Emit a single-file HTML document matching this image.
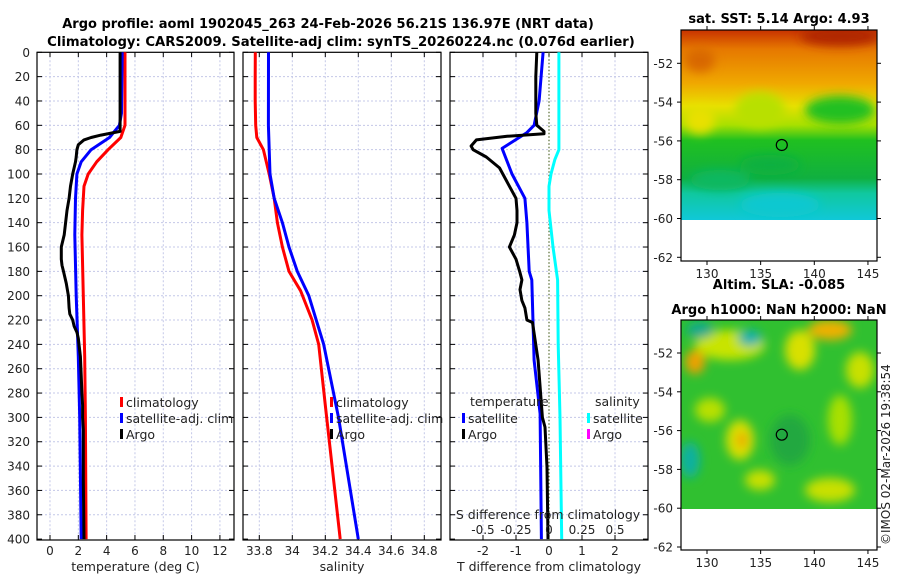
<!DOCTYPE html>
<html><head><meta charset="utf-8"><style>
body{margin:0;background:#fff}
svg{display:block;font-family:"DejaVu Sans","Liberation Sans",sans-serif}
</style></head><body>
<svg id="s" width="900" height="580" xmlns="http://www.w3.org/2000/svg">
<defs>
<filter id="blur" x="-20%" y="-20%" width="140%" height="140%"><feGaussianBlur stdDeviation="5"/></filter>
<clipPath id="c1"><rect x="681" y="30" width="196" height="190"/></clipPath>
<clipPath id="c2"><rect x="681" y="320" width="196" height="189"/></clipPath>
<linearGradient id="sstg" x1="0" y1="0" x2="0" y2="1">
<stop offset="0" stop-color="#c83200"/><stop offset="0.1" stop-color="#e67800"/><stop offset="0.28" stop-color="#f0a800"/>
<stop offset="0.4" stop-color="#e8e000"/><stop offset="0.5" stop-color="#a8e000"/><stop offset="0.58" stop-color="#20c020"/>
<stop offset="0.78" stop-color="#10b040"/><stop offset="0.86" stop-color="#10c8a0"/><stop offset="1" stop-color="#10c8d8"/>
</linearGradient>
</defs>
<g id="titles">
<text x="328" y="28" text-anchor="middle" font-weight="bold" font-size="13">Argo profile: aoml 1902045_263 24-Feb-2026 56.21S 136.97E (NRT data)</text>
<text x="341" y="46" text-anchor="middle" font-weight="bold" font-size="13.2">Climatology: CARS2009. Satellite-adj clim: synTS_20260224.nc (0.076d earlier)</text>
</g>
<g id="maps">
<g clip-path="url(#c1)">
<rect x="681" y="30" width="196" height="190" fill="url(#sstg)"/>
<g filter="url(#blur)">
<ellipse cx="840" cy="36" rx="40" ry="10" fill="#b02800"/>
<ellipse cx="700" cy="60" rx="15" ry="12" fill="#d86800"/>
<ellipse cx="760" cy="110" rx="25" ry="18" fill="#b8e000"/>
<ellipse cx="700" cy="120" rx="15" ry="14" fill="#e8e000"/>
<ellipse cx="840" cy="110" rx="35" ry="14" fill="#20c020"/>
<ellipse cx="780" cy="205" rx="40" ry="12" fill="#10c8d0"/>
<ellipse cx="720" cy="180" rx="30" ry="10" fill="#10b860"/>
<ellipse cx="770" cy="165" rx="30" ry="10" fill="#10b040"/>
</g>
</g>
<rect x="681" y="220" width="196" height="41" fill="#fff"/>
<g clip-path="url(#c2)">
<rect x="681" y="320" width="196" height="189" fill="#30c030"/>
<g filter="url(#blur)">
<ellipse cx="730" cy="345" rx="35" ry="15" fill="#c8e400"/>
<ellipse cx="695" cy="362" rx="10" ry="12" fill="#f0a000"/>
<ellipse cx="750" cy="338" rx="12" ry="8" fill="#10b0b0"/>
<ellipse cx="700" cy="330" rx="14" ry="8" fill="#10a890"/>
<ellipse cx="830" cy="330" rx="22" ry="10" fill="#f0b000"/>
<ellipse cx="800" cy="350" rx="15" ry="20" fill="#d8e000"/>
<ellipse cx="860" cy="370" rx="14" ry="18" fill="#c8e000"/>
<ellipse cx="740" cy="440" rx="14" ry="20" fill="#d8e000"/>
<ellipse cx="742" cy="440" rx="5" ry="8" fill="#f0a000"/>
<ellipse cx="690" cy="460" rx="10" ry="18" fill="#10b0a0"/>
<ellipse cx="710" cy="410" rx="15" ry="12" fill="#b8e000"/>
<ellipse cx="760" cy="480" rx="15" ry="10" fill="#c8e000"/>
<ellipse cx="830" cy="490" rx="25" ry="12" fill="#c8e000"/>
<ellipse cx="840" cy="420" rx="12" ry="25" fill="#a8e000"/>
<ellipse cx="790" cy="440" rx="20" ry="25" fill="#20a840"/>
</g>
</g>
<rect x="681" y="509" width="196" height="41" fill="#fff"/>
</g>
<g id="axes"></g>
<g id="series"></g>
</svg>
<script>
// ---- data ----
const depths = [0,20,40,50,60,65,68,70,72,76,80,86,90,95,100,110,120,130,140,150,160,170,175,180,190,200,210,215,220,225,230,235,250,265,280,290,300,310,350,400];
const tArgo = [4.95,4.95,4.95,4.95,4.95,4.95,3.6,2.9,2.4,2.0,1.9,1.85,1.8,1.7,1.6,1.45,1.35,1.2,1.1,1.0,0.8,0.8,0.85,0.95,1.15,1.3,1.35,1.4,1.6,1.7,1.9,2.0,2.15,2.2,2.25,2.3,2.3,2.35,2.35,2.4];
const tSatDepth = [0,50,60,70,80,90,100,120,150,200,250,300,400];
const tSat = [5.1,5.05,4.9,4.2,2.9,2.2,1.9,1.8,1.75,1.85,2.0,2.1,2.2];
const tClimDepth = [0,60,70,80,90,100,110,130,150,200,250,300,400];
const tClim = [5.3,5.3,5.0,4.1,3.3,2.7,2.4,2.3,2.25,2.35,2.45,2.5,2.55];
const sDepth = [0,20,40,60,70,80,100,120,140,160,180,196,220,240,290,400];
const sClim = [33.776,33.775,33.775,33.778,33.785,33.825,33.86,33.89,33.91,33.94,33.98,34.05,34.12,34.16,34.2,34.29];
const sSatDepth = [0,60,80,100,120,140,160,180,200,240,300,400];
const sSat = [33.856,33.855,33.86,33.865,33.89,33.94,33.98,34.03,34.1,34.19,34.28,34.4];
const dTSatDepth = [0,40,60,66,79,100,120,140,180,187,253,297,400];
const dTSat = [-0.18,-0.3,-0.45,-0.67,-1.42,-1.12,-0.73,-0.67,-0.6,-0.52,-0.45,-0.27,-0.23];
const dTArgoDepth = [0,20,50,60,65,67,69,72,77,80,86,95,110,120,130,140,150,160,170,181,187,195,204,210,220,222,253,300,308,341,400];
const dTArgo = [-0.37,-0.4,-0.4,-0.37,-0.15,-0.15,-1.27,-2.2,-2.36,-2.3,-1.9,-1.5,-1.2,-1.0,-0.97,-0.97,-1.05,-1.2,-1.0,-0.88,-0.82,-0.88,-0.82,-0.73,-0.67,-0.5,-0.33,-0.2,-0.12,-0.06,-0.03];
const dSDepth = [0,80,88,100,110,130,160,187,240,300,400];
const dSSat = [0.075,0.075,0.045,0.015,0,0,0.03,0.065,0.07,0.083,0.096];
const depthTicks = [0,20,40,60,80,100,120,140,160,180,200,220,240,260,280,300,320,340,360,380,400];
const tTicks = [0,2,4,6,8,10,12];
const sTicks = [33.8,34,34.2,34.4,34.6,34.8];
const sTickLabels = ["33.8","34","34.2","34.4","34.6","34.8"];
const dTTicks = [-2,-1,0,1,2];
const dSTickLabels = ["-0.5","-0.25","0","0.25","0.5"];
const dSTicks = [-0.5,-0.25,0,0.25,0.5];
const lonTicks = [130,135,140,145];
const latTicks = [-52,-54,-56,-58,-60,-62];
const argoLon = 136.97, argoLat = -56.21;

// ---- scales ----
const y = d => 52.3 + d*1.217;
const xT = t => 50 + t*14.16;
const xS = s => 259.3 + (s-33.8)*165;
const xDT = v => 549 + v*33;
const xDS = v => 549 + v*132;
const lonX = l => 707 + (l-130)*10.73;
const latY1 = l => 63.3 + (-52-l)*19.4;
const latY2 = l => 353 + (-52-l)*19.4;

const NS="http://www.w3.org/2000/svg";
const axes=document.getElementById('axes'), ser=document.getElementById('series');
function mk(tag, attrs, parent, txt){const e=document.createElementNS(NS,tag);for(const k in attrs)e.setAttribute(k,attrs[k]);if(txt!==undefined)e.textContent=txt;parent.appendChild(e);return e;}

const panels=[{x0:37,x1:234,xs:xT,ticks:tTicks,labels:tTicks.map(String),title:"temperature (deg C)",name:"temperature-panel"},
{x0:243,x1:441,xs:xS,ticks:sTicks,labels:sTickLabels,title:"salinity",name:"salinity-panel"},
{x0:450,x1:648,xs:xDT,ticks:dTTicks,labels:dTTicks.map(String),title:"T difference from climatology",name:"difference-panel"}];
panels.forEach(p=>{
  const g=mk('g',{},axes);
  
  
  depthTicks.forEach(d=>{
    if(d>0&&d<400){const l=mk('line',{x1:p.x0,x2:p.x1,y1:y(d),y2:y(d),stroke:'#c4c8e8','stroke-dasharray':'2,2','stroke-width':1},g);
    
    }
    mk('line',{x1:p.x0,x2:p.x0+5,y1:y(d),y2:y(d),stroke:'#000'},g);
    mk('line',{x1:p.x1,x2:p.x1-5,y1:y(d),y2:y(d),stroke:'#000'},g);
  });
  p.ticks.forEach((t,i)=>{
    const xx=p.xs(t);
    if(!(p.name==='difference-panel'&&t===0)){const l=mk('line',{x1:xx,x2:xx,y1:52.3,y2:540,stroke:'#c4c8e8','stroke-dasharray':'2,2'},g);
    
    }
    mk('line',{x1:xx,x2:xx,y1:540,y2:535,stroke:'#000'},g);
    mk('line',{x1:xx,x2:xx,y1:52.3,y2:57,stroke:'#000'},g);
    const tl=mk('text',{x:xx,y:555,'text-anchor':'middle','font-size':12,fill:'#222'},g,p.labels[i]);
    
    
  });
  mk('rect',{x:p.x0,y:52.3,width:p.x1-p.x0,height:487.7,fill:'none',stroke:'#000','stroke-width':1.2},g);
  const tt=mk('text',{x:(p.x0+p.x1)/2,y:571,'text-anchor':'middle','font-size':12.5,fill:'#222'},g,p.title);
  
  
});
depthTicks.forEach(d=>{
  const t=mk('text',{x:30,y:y(d)+4.5,'text-anchor':'end','font-size':12,fill:'#222'},axes,String(d));
  
  
});
const zl=mk('line',{x1:xDT(0),x2:xDT(0),y1:52.3,y2:540,stroke:'#556b2f','stroke-dasharray':'1.5,2','stroke-width':1.2},axes);



function line(xs,ys,xf,color,name){
  const pts=xs.map((v,i)=>xf(v).toFixed(1)+','+y(ys[i]).toFixed(1)).join(' ');
  const pl=mk('polyline',{points:pts,fill:'none',stroke:color,'stroke-width':3,'stroke-linejoin':'round'},ser);
  
  
}
line(tClim,tClimDepth,xT,'#ff0000','temp-climatology-line');
line(tSat,tSatDepth,xT,'#0000ff','temp-satellite-line');
line(tArgo,depths,xT,'#000','temp-argo-line');
line(sClim,sDepth,xS,'#ff0000','sal-climatology-line');
line(sSat,sSatDepth,xS,'#0000ff','sal-satellite-line');
line(dSSat,dSDepth,xDS,'#00ffff','sdiff-satellite-line');
line(dTSat,dTSatDepth,xDT,'#0000ff','tdiff-satellite-line');
line(dTArgo,dTArgoDepth,xDT,'#000','tdiff-argo-line');

const sdt=mk('text',{x:548,y:519,'text-anchor':'middle','font-size':12.5,fill:'#222'},ser,'S difference from climatology');


dSTicks.forEach((v,i)=>{
  const t=mk('text',{x:xDS(v),y:534,'text-anchor':'middle','font-size':12,fill:'#222'},ser,dSTickLabels[i]);
  
  
});

function leg(x,yy,color,label){
  const g=mk('g',{},ser);
  
  
  if(color) mk('rect',{x:x,y:yy-9,width:3,height:10,fill:color},g);
  mk('text',{x:x+(color?6:0),y:yy+1,'font-size':12.5,fill:'#222'},g,label);
}
leg(120,406,'#ff0000','climatology');leg(120,422,'#0000ff','satellite-adj. clim');leg(120,438,'#000','Argo');
leg(330,406,'#ff0000','climatology');leg(330,422,'#0000ff','satellite-adj. clim');leg(330,438,'#000','Argo');
leg(470,405,null,'temperature');leg(462,422,'#0000ff','satellite');leg(462,438,'#000','Argo');
leg(595,405,null,'salinity');leg(587,422,'#00ffff','satellite');leg(587,438,'#ff00ff','Argo');

function mapAxes(top,bottom,latY,title1,title2,name){
  const g=mk('g',{},axes);
  
  
  mk('rect',{x:681,y:top,width:196,height:bottom-top,fill:'none',stroke:'#000','stroke-width':1.2},g);
  latTicks.forEach(l=>{
    const yy=latY(l);
    mk('line',{x1:681,x2:677,y1:yy,y2:yy,stroke:'#000'},g);
    mk('line',{x1:877,x2:881,y1:yy,y2:yy,stroke:'#000'},g);
    const t=mk('text',{x:673,y:yy+4.5,'text-anchor':'end','font-size':12,fill:'#222'},g,String(l));
    
    
  });
  lonTicks.forEach(l=>{
    const xx=lonX(l);
    mk('line',{x1:xx,x2:xx,y1:bottom,y2:bottom+4,stroke:'#000'},g);
    mk('line',{x1:xx,x2:xx,y1:top,y2:top-4,stroke:'#000'},g);
    const t=mk('text',{x:xx,y:bottom+17,'text-anchor':'middle','font-size':12,fill:'#222'},g,String(l));
    
    
  });
  const c=mk('ellipse',{cx:lonX(argoLon),cy:latY(argoLat),rx:5.5,ry:5.5,fill:'none',stroke:'#000','stroke-width':1.2},g);
  
  
  if(title1){const t=mk('text',{x:779,y:title2?top-31:top-7,'text-anchor':'middle','font-weight':'bold','font-size':13},g,title1);
    
    }
  if(title2){const t=mk('text',{x:779,y:top-6,'text-anchor':'middle','font-weight':'bold','font-size':13},g,title2);
    
    }
}
mapAxes(30,261,latY1,'sat. SST: 5.14 Argo: 4.93',null,'sst-map-axes');
mapAxes(320,550,latY2,'Altim. SLA: -0.085','Argo h1000: NaN h2000: NaN','sla-map-axes');

const cr=mk('text',{x:0,y:0,'font-size':12,fill:'#222',transform:'translate(890,545) rotate(-90)'},axes,'©IMOS 02-Mar-2026 19:38:54');


</script>
</body></html>
